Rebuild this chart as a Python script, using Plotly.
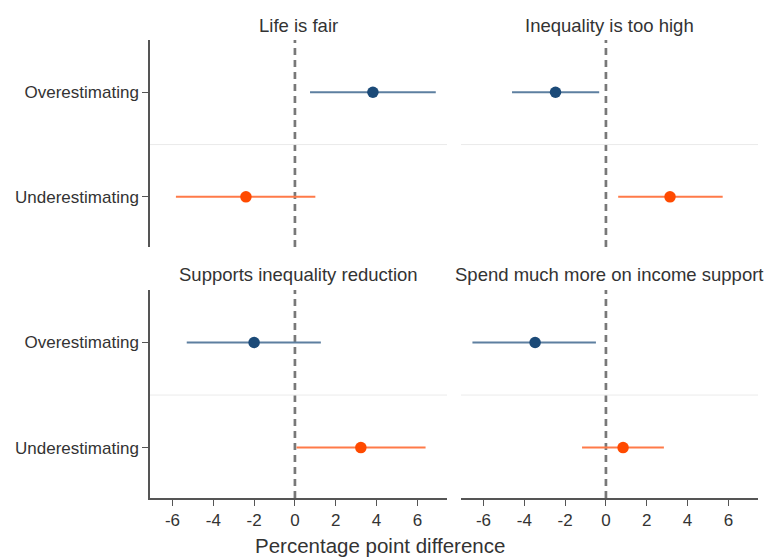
import plotly.graph_objects as go

# Estimates (percentage points) with 95% confidence bounds
panels = ["Life is fair", "Inequality is too high",
          "Supports inequality reduction", "Spend much more on income support"]
groups = ["Underestimating", "Overestimating"]

over_est = [3.82, -2.47, -2.0, -3.47]
over_lo = [0.74, -4.6, -5.3, -6.54]
over_hi = [6.9, -0.33, 1.27, -0.49]

under_est = [-2.4, 3.14, 3.23, 0.84]
under_lo = [-5.83, 0.6, 0.08, -1.17]
under_hi = [1.0, 5.72, 6.4, 2.84]

x_ticks = [-6, -4, -2, 0, 2, 4, 6]
x_tick_text = ["-6", "-4", "-2", "0", "2", "4", "6"]

W, H = 769, 558
# panel boxes in pixels: (left, right, top, bottom)
boxes = [(150, 447, 40, 247), (461, 758, 40, 247),
         (150, 447, 290, 498), (461, 758, 290, 498)]

blue_pt, blue_ln = "#1b4a78", "#5d7fa0"
orng_pt, orng_ln = "#ff4a00", "#ff7a48"
axis_col = "#555555"
txt_col = "#333333"

fig = go.Figure()
layout = dict(width=W, height=H, margin=dict(l=0, r=0, t=0, b=0),
              template="none", showlegend=False,
              plot_bgcolor="white", paper_bgcolor="white",
              font=dict(family="Liberation Sans, Arial, sans-serif", color=txt_col))
annotations = []
shapes = []

for i, (l, r, t, b) in enumerate(boxes):
    n = "" if i == 0 else str(i + 1)
    xa, ya = "x" + n, "y" + n
    left_col = i % 2 == 0
    bottom_row = i >= 2
    layout["xaxis" + n] = dict(
        domain=[l / W, r / W], range=[-7.1, 7.45], anchor=ya,
        tickvals=x_ticks if bottom_row else [], ticktext=x_tick_text,
        showticklabels=bottom_row,
        ticks="outside" if bottom_row else "", ticklen=6, tickcolor=axis_col,
        showline=bottom_row, linecolor=axis_col, linewidth=1.5,
        showgrid=False, zeroline=False, automargin=False,
        tickfont=dict(size=17, color=txt_col))
    layout["yaxis" + n] = dict(
        domain=[1 - b / H, 1 - t / H], range=[-0.48, 1.5], anchor=xa,
        tickvals=[0, 1] if left_col else [], ticktext=groups,
        showticklabels=left_col, ticks="outside" if left_col else "",
        ticklen=6, tickcolor=axis_col,
        showline=left_col, linecolor=axis_col, linewidth=1.5,
        showgrid=False, zeroline=False, automargin=False,
        tickfont=dict(size=17, color=txt_col))

    # separator between groups
    shapes.append(dict(type="line", xref=xa + " domain", yref=ya,
                       x0=0, x1=1, y0=0.5, y1=0.5,
                       line=dict(color="#ebebeb", width=1)))
    # reference line at zero
    shapes.append(dict(type="line", xref=xa, yref=ya + " domain",
                       x0=0, x1=0, y0=0, y1=1, layer="below",
                       line=dict(color="#787878", width=2.7, dash="7px,5px")))

    for est, lo, hi, yv, pc, lc in [
            (over_est[i], over_lo[i], over_hi[i], 1, blue_pt, blue_ln),
            (under_est[i], under_lo[i], under_hi[i], 0, orng_pt, orng_ln)]:
        fig.add_trace(go.Scatter(
            x=[est], y=[yv], xaxis=xa, yaxis=ya, mode="markers",
            marker=dict(size=11.5, color=pc),
            error_x=dict(type="data", symmetric=False,
                         array=[hi - est], arrayminus=[est - lo],
                         color=lc, thickness=2, width=0)))

    annotations.append(dict(text=panels[i], xref="paper", yref="paper",
                            x=(l + r) / 2 / W, y=1 - (t - 15) / H,
                            xanchor="center", yanchor="middle",
                            showarrow=False, font=dict(size=18.5, color=txt_col)))

annotations.append(dict(text="Percentage point difference", xref="paper", yref="paper",
                        x=380 / W, y=1 - 545 / H, xanchor="center", yanchor="middle",
                        showarrow=False, font=dict(size=20.5, color=txt_col)))

layout["annotations"] = annotations
layout["shapes"] = shapes
fig.update_layout(**layout)
fig.write_html("out.html")
